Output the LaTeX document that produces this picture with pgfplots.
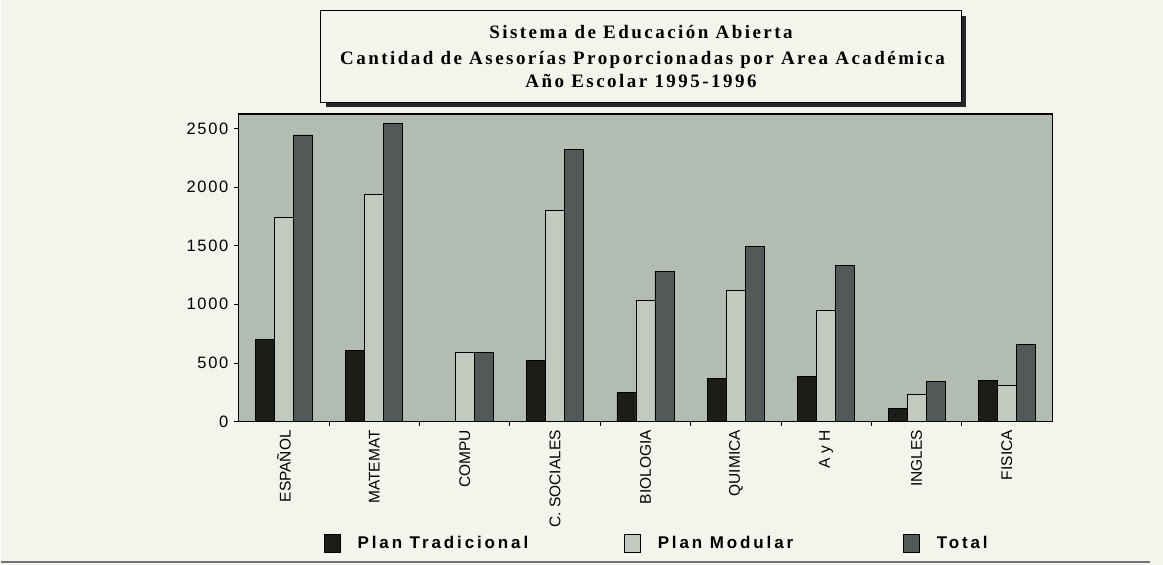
\documentclass[border=0pt]{standalone}
\usepackage{pgfplots}
\usepackage{pgfplotstable}
\pgfplotsset{compat=1.18}
\usepackage{fontspec}
\setmainfont{Liberation Sans}
\newfontfamily\titlefont[LetterSpace=13]{Liberation Serif}
\newfontfamily\legfont[LetterSpace=17]{Liberation Sans}
\newfontfamily\tickfont[LetterSpace=10]{Liberation Sans}
\definecolor{page}{HTML}{F3F5EC}
\definecolor{bgcol}{HTML}{B3BCB2}
\definecolor{tradcol}{HTML}{1C1C18}
\definecolor{modcol}{HTML}{C2C9BF}
\definecolor{totcol}{HTML}{535858}

\pgfplotstableread{
x trad mod tot
0 702 1742 2444
1 605 1935 2540
2 0 590 590
3 520 1800 2320
4 245 1035 1280
5 368 1122 1490
6 385 945 1330
7 112 228 340
8 348 310 658
}\datatable

\begin{document}
\begin{tikzpicture}[x=1pt,y=1pt]
\fill[page] (0,0) rectangle (1163,565);
\draw[line width=2pt, black!55] (0,3) -- (1150,3);
% title box with shadow
\fill[black!85] (325,458) rectangle (966,549);
\filldraw[fill=page,draw=black,line width=0.8pt] (320,463) rectangle (961,555);
\node[anchor=base,inner sep=0pt,font=\titlefont\bfseries\fontsize{19}{19}\selectfont] at (640.5,526) {Sistema de Educación Abierta};
\node[anchor=base,inner sep=0pt,font=\titlefont\bfseries\fontsize{19}{19}\selectfont] at (642,500) {Cantidad de Asesorías Proporcionadas por Area Académica};
\node[anchor=base,inner sep=0pt,font=\titlefont\bfseries\fontsize{19}{19}\selectfont] at (640.5,477) {Año Escolar 1995-1996};
\begin{axis}[
  at={(238pt,143pt)}, anchor=south west,
  scale only axis, width=814pt, height=308pt,
  xmin=-0.5, xmax=8.5, ymin=0, ymax=2623,
  ybar=0pt, bar width=19pt,
  axis background/.style={fill=bgcol},
  axis line style={line width=1.2pt, black},
  xtick={0,...,8},
  xticklabels={ESPAÑOL,MATEMAT,COMPU,C. SOCIALES,BIOLOGIA,QUIMICA,A y H,INGLES,FISICA},
  x tick label style={rotate=90, anchor=east, font=\fontsize{15.5}{15.5}\selectfont},
  xtick style={draw=none},
  extra x ticks={0.5,1.5,2.5,3.5,4.5,5.5,6.5,7.5},
  extra x tick labels={},
  extra x tick style={xtick style={draw=black, line width=0.8pt}, major tick length=4pt, tick align=outside},
  ytick={0,500,1000,1500,2000,2500},
  ytick pos=left, xtick pos=bottom,
  tick align=outside, major tick length=5pt,
  ytick style={line width=0.8pt, black},
  y tick label style={font=\tickfont\fontsize{16.5}{16.5}\selectfont, xshift=-2pt},
  /pgf/number format/assume math mode=true,
  /pgf/number format/1000 sep={},
  legend style={at={(0.514,-0.396)}, anchor=center, draw=none, fill=none,
    font=\legfont\bfseries\fontsize{17}{17}\selectfont,
    /tikz/every odd column/.append style={column sep=15pt},
    /tikz/every even column/.append style={column sep=94pt}},
  legend columns=3,
  legend image code/.code={\draw[#1,draw=black,line width=0.6pt] (0pt,-9pt) rectangle (16pt,9pt);},
]
\addplot[fill=tradcol, draw=black, line width=0.8pt] table[x=x,y=trad]{\datatable};
\addplot[fill=modcol, draw=black, line width=0.8pt] table[x=x,y=mod]{\datatable};
\addplot[fill=totcol, draw=black, line width=0.8pt] table[x=x,y=tot]{\datatable};
\legend{Plan Tradicional,Plan Modular\hspace*{14pt},Total}
\end{axis}
\end{tikzpicture}
\end{document}
